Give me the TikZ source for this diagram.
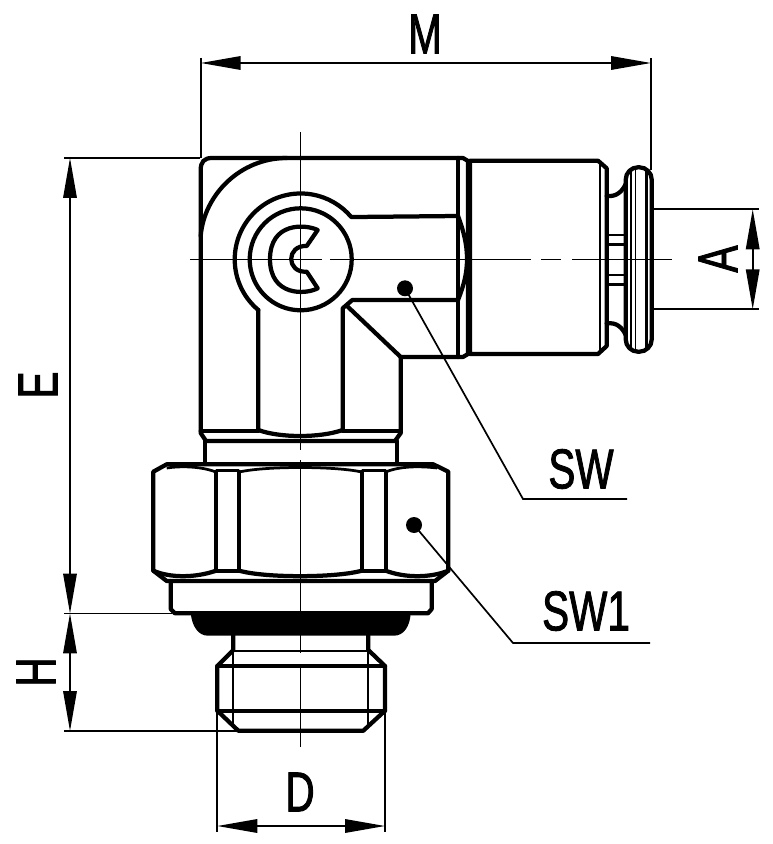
\documentclass[tikz,border=0pt]{standalone}
\usepackage{fontspec}
\setmainfont[FakeStretch=0.72,FakeBold=1.5]{Liberation Sans}
\usetikzlibrary{arrows.meta}
\tikzset{
	outline/.style={line width=0.85mm, line join=round, line cap=round},
	mid/.style={line width=0.55mm},
	dimline/.style={line width=0.34mm},
	centre/.style={line width=0.3mm},
	dimarrow/.style={dimline, {Triangle[length=8mm,width=2.7mm]}-{Triangle[length=8mm,width=2.7mm]}},
	dimtext/.style={font=\fontsize{32}{32}\selectfont, inner sep=0pt},
	dot/.style={circle, fill=black, inner sep=0pt, minimum size=3.2mm}
}
\begin{document}
\begin{tikzpicture}[x=0.02cm, y=-0.02cm]
	\useasboundingbox (0,0) rectangle (772,844);

	% centre lines
	\foreach \xa/\xb in {190/322, 330/531, 541/561, 572/672}
		\draw[centre] (\xa,259.3) -- (\xb,259.3);
	\foreach \ya/\yb in {132/450, 460/653, 665/747}
		\draw[centre] (300.7,\ya) -- (300.7,\yb);

	% elbow
	\draw[outline] (206,441) -- (200.7,433) -- (200.7,170) .. controls (200.7,162) and (204,158) .. (212,158) -- (463,158) -- (468,161) -- (468,354) -- (463,357) -- (400.7,357) -- (400.7,433) -- (395,441) -- cycle;
	\draw[outline] (200.7,236) .. controls (204,195) and (240,158) .. (287,158);
	\draw[outline] (200.7,431) -- (258.3,431) (342.7,431) -- (400.7,431);
	\draw[outline] (458,158) -- (458,357);
	\draw[outline] (258.3,310) arc[start angle=230, end angle=40, radius=1.32cm] -- (458,216);
	\draw[outline] (258.3,310) -- (258.3,430) .. controls (280,438) and (320,438) .. (342.7,430) -- (342.7,308.3) -- (352.3,300) -- (458,300);
	\draw[outline] (458,216) .. controls (464,232) and (467,245) .. (467,259) .. controls (467,273) and (464,285) .. (458,300);
	\draw[outline] (346.7,305.7) -- (400.7,357);
	\draw[outline] (300.7,259.3) circle[radius=51];
	% C
	\draw[outline] (317.7,230) .. controls (305,224) and (270,222) .. (270,259.3) .. controls (270,296) and (305,295) .. (317.7,288.3) -- (306.7,271.7) .. controls (286,273) and (286,245) .. (306.7,246) -- cycle;

	% push-in sleeve
	\draw[outline] (470,160.7) -- (598,160.7) -- (606.7,168.3) -- (606.7,346) -- (598,354) -- (470,354) -- cycle;
	\draw[mid] (600,163) -- (600,351);
	\draw[outline] (606.7,196) .. controls (616,197) and (622,192) .. (625.7,184);
	\draw[outline] (606.7,323.5) .. controls (616,322) and (622,327) .. (625.7,335);
	\foreach \y in {235,244.3,275,284.3}
		\draw[mid] (606.7,\y) -- (625.7,\y);
	\draw[outline, rounded corners=7pt] (625.7,167.3) rectangle (651.7,351.7);
	\draw[mid] (631,170) -- (631,349) (646.7,170) -- (646.7,349);
	\draw[dimline] (635.5,168) -- (635.5,351);

	% nut
	\draw[outline] (205,441) -- (205,464) (396.7,441) -- (396.7,464);
	\draw[outline] (153.3,471.7) -- (166.7,464.3) -- (433.3,464.3) -- (448.3,471.7) -- (448.3,570.7) -- (435,581) -- (166.7,581) -- (153.3,570.7) -- cycle;
	\draw[outline] (216,471.7) -- (216,570.7) (239.3,471.7) -- (239.3,570.7) (361.7,471.7) -- (361.7,570.7) (385.7,471.7) -- (385.7,570.7);
	\draw[mid] (216,470.7) -- (239.3,470.7) (361.7,470.7) -- (385.7,470.7);
	\draw[outline] (216,570.7) -- (239.3,570.7) (361.7,570.7) -- (385.7,570.7);
	\draw[mid] (166.7,468) .. controls (180,466) and (200,466) .. (216,472) (239.3,472) .. controls (265,466) and (335,466) .. (361.7,472) (385.7,472) .. controls (400,466) and (420,466) .. (437,468);
	\draw[outline] (153.3,570.7) .. controls (170,578) and (195,578) .. (216,570.7) (239.3,570.7) .. controls (265,578) and (335,578) .. (361.7,570.7) (385.7,570.7) .. controls (405,578) and (430,578) .. (448.3,570.7);

	% washer, seal, thread
	\draw[outline] (170.7,581) -- (170.7,609) -- (175,613.3) -- (428,613.3) -- (431.7,609) -- (431.7,581);
	\fill (190.7,613) .. controls (192,626) and (198,635.7) .. (208,635.7) -- (394,635.7) .. controls (404,635.7) and (410,626) .. (410.7,613) -- cycle;
	\draw[outline] (233.3,635) -- (233.3,650) -- (217.3,666) -- (217.3,710.7) -- (238.3,730.7) -- (363.3,730.7) -- (385,710.7) -- (385,666) -- (368.3,650) -- (368.3,635);
	\draw[outline] (217.3,666) -- (385,666) (217.3,710.7) -- (385,710.7);
	\draw[mid] (233.3,651) -- (368.3,651);
	\draw[dimline] (232.7,651) -- (232.7,725) (368.3,651) -- (368.3,725);

	% dimensions
	\draw[dimline] (200.7,58) -- (200.7,158) (651,58) -- (651,170);
	\draw[dimarrow] (200.7,63) -- (651,63);
	\node[dimtext] (labelM) at (425,34) {M};
	\draw[dimline] (64,158) -- (200,158) (64,613.5) -- (172,613.5) (64,731) -- (238,731);
	\draw[dimarrow] (70,158) -- (70,613.5);
	\node[dimtext, rotate=90] (labelE) at (38,385) {E};
	\draw[dimarrow] (70,613.5) -- (70,731);
	\node[dimtext, rotate=90] (labelH) at (36,672) {H};
	\draw[dimline] (217.3,712) -- (217.3,832) (385,712) -- (385,832);
	\draw[dimarrow] (217.3,826) -- (385,826);
	\node[dimtext] (labelD) at (300,792) {D};
	\draw[dimline] (651.7,209.3) -- (759.3,209.3) (651.7,309.3) -- (759.3,309.3);
	\draw[dimarrow] (752.7,209.3) -- (752.7,309.3);
	\node[dimtext, rotate=90] (labelA) at (718,259) {A};

	% leaders
	\node[dot] (dotSW) at (405,288.3) {};
	\coordinate (kneeSW) at (523,499);
	\coordinate (endSW) at (627,499);
	\draw[dimline] (dotSW.center) -- (kneeSW) -- (endSW);
	\node[dimtext] (labelSW) at (581,469) {SW};
	\node[dot] (dotSWa) at (414,525) {};
	\coordinate (kneeSWa) at (513,643);
	\coordinate (endSWa) at (650,643);
	\draw[dimline] (dotSWa.center) -- (kneeSWa) -- (endSWa);
	\node[dimtext] (labelSWa) at (586,611) {SW1};
\end{tikzpicture}
\end{document}
